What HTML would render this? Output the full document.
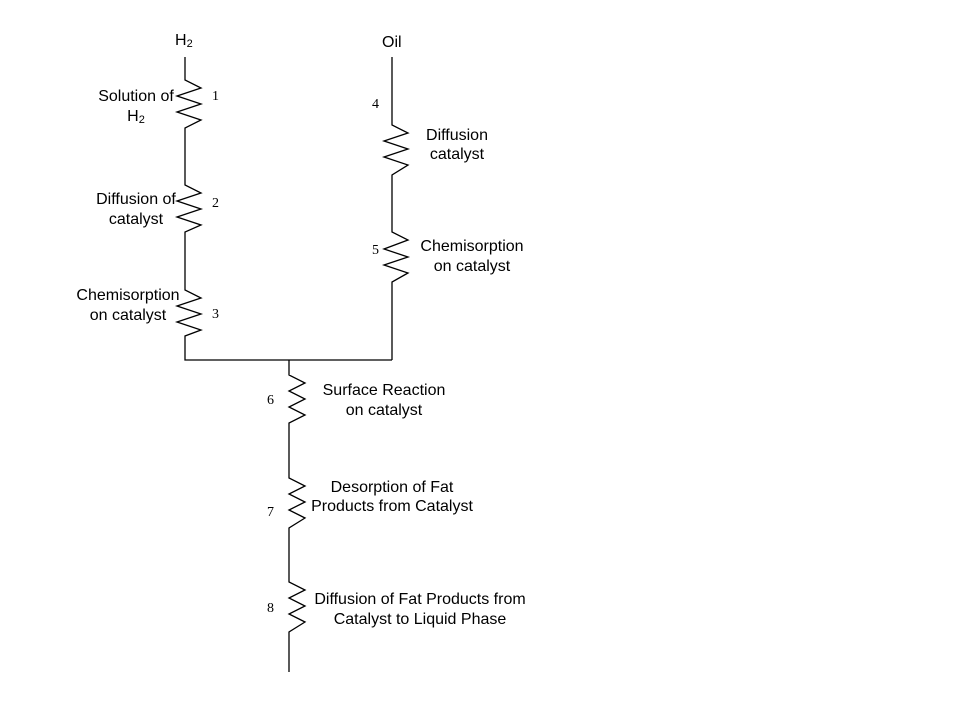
<!DOCTYPE html>
<html><head><style>
body{margin:0;background:#fff;}
svg{display:block}
text{font-family:"Liberation Sans",sans-serif;font-size:16px;fill:#000}
.n{font-family:"Liberation Serif",serif;font-size:14px}
</style></head><body>
<svg width="960" height="720" viewBox="0 0 960 720">
<g fill="none" stroke="#000" stroke-width="1.3">
<polyline points="185,57 185,80 201,88 177,96 201,104 177,112 201,120 185,128 185,185 201,193 177,201 201,209 177,217 201,225 185,232 185,290 201,298 177,306 201,314 177,322 201,330 185,336 185,360 392,360"/>
<polyline points="392,57 392,125 408,133 384,141 408,149 384,157 408,165 392,175 392,232 408,240 384,249 408,257 384,265 408,273 392,282 392,360"/>
<polyline points="289,360 289,375 305,383 289,391 305,399 289,407 305,415 289,423 289,478 305,486 289,494 305,502 289,510 305,518 289,528 289,582 305,590 289,598 305,606 289,614 305,622 289,632 289,672"/>
</g>
<text x="175" y="45">H<tspan font-size="11" dy="2">2</tspan></text>
<text x="382" y="47">Oil</text>
<text x="136" y="101" text-anchor="middle">Solution of</text>
<text x="136" y="121" text-anchor="middle">H<tspan font-size="11" dy="2">2</tspan></text>
<text x="136" y="204" text-anchor="middle">Diffusion of</text>
<text x="136" y="224" text-anchor="middle">catalyst</text>
<text x="128" y="300" text-anchor="middle">Chemisorption</text>
<text x="128" y="320" text-anchor="middle">on catalyst</text>
<text x="457" y="140" text-anchor="middle">Diffusion</text>
<text x="457" y="159" text-anchor="middle">catalyst</text>
<text x="472" y="251" text-anchor="middle">Chemisorption</text>
<text x="472" y="271" text-anchor="middle">on catalyst</text>
<text x="384" y="395" text-anchor="middle">Surface Reaction</text>
<text x="384" y="415" text-anchor="middle">on catalyst</text>
<text x="392" y="492" text-anchor="middle">Desorption of Fat</text>
<text x="392" y="511" text-anchor="middle">Products from Catalyst</text>
<text x="420" y="604" text-anchor="middle">Diffusion of Fat Products from</text>
<text x="420" y="624" text-anchor="middle">Catalyst to Liquid Phase</text>
<text class="n" x="212" y="100">1</text>
<text class="n" x="212" y="207">2</text>
<text class="n" x="212" y="318">3</text>
<text class="n" x="372" y="108">4</text>
<text class="n" x="372" y="254">5</text>
<text class="n" x="267" y="404">6</text>
<text class="n" x="267" y="516">7</text>
<text class="n" x="267" y="612">8</text>
</svg>
</body></html>
